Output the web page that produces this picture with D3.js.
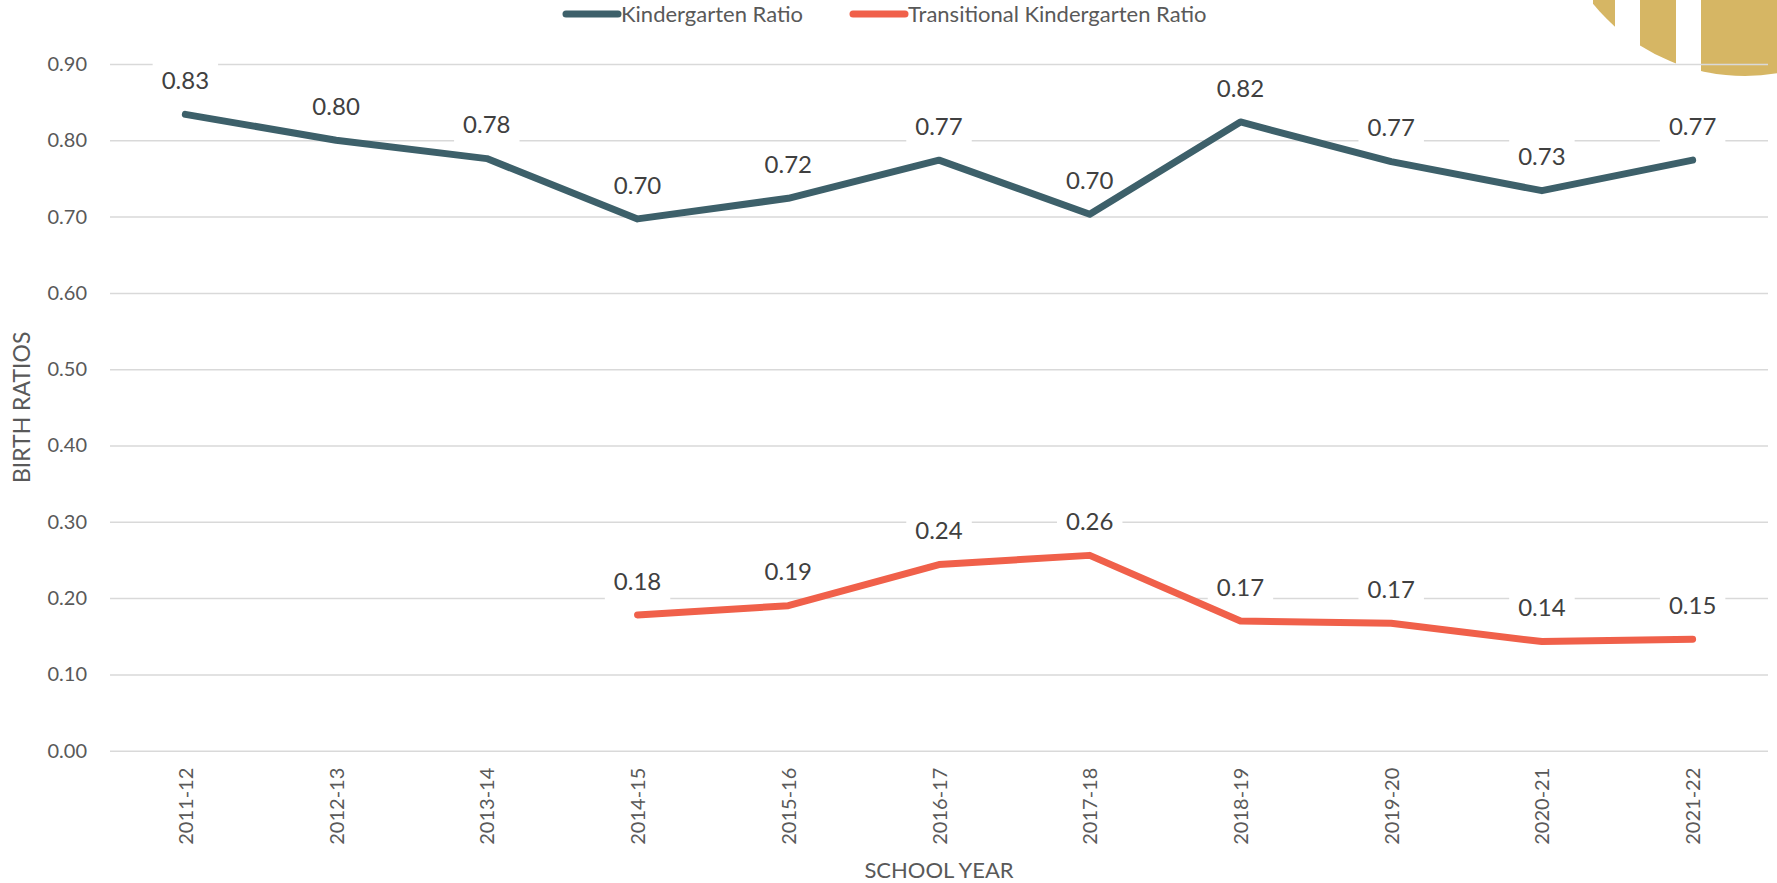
<!DOCTYPE html>
<html>
<head>
<meta charset="utf-8">
<script src="https://cdn.jsdelivr.net/npm/d3@7"></script>
<style>
  html, body { margin: 0; padding: 0; background: #fff; }
  svg text { font-family: Lato, "Liberation Sans", sans-serif; }
</style>
</head>
<body>
<div id="container"></div>
<script>
var w = 1777,
    h = 883;

// data
var years = ['2011-12', '2012-13', '2013-14', '2014-15', '2015-16', '2016-17',
             '2017-18', '2018-19', '2019-20', '2020-21', '2021-22'];
var kRatio = [0.834, 0.800, 0.776, 0.697, 0.724, 0.774, 0.703, 0.824, 0.772, 0.734, 0.774];
var tkRatio = [null, null, null, 0.178, 0.190, 0.244, 0.256, 0.170, 0.167, 0.143, 0.146];
var yTicks = [0, 0.1, 0.2, 0.3, 0.4, 0.5, 0.6, 0.7, 0.8, 0.9];

var series = [
    { name: 'Kindergarten Ratio', values: kRatio, color: '#3d606a' },
    { name: 'Transitional Kindergarten Ratio', values: tkRatio, color: '#f0604a' }
];

var margin = { top: 64, right: 9, bottom: 132, left: 110 };

var svg = d3.select('#container')
    .append('svg')
    .attr('width', w)
    .attr('height', h);

// gold logo corner (decoration, cut off by the page edge)
var logo = svg.append('g');
[[1593, 1615], [1640, 1676], [1701, 1777]].forEach(function(r, i) {
    logo.append('clipPath').attr('id', 'lc' + i)
        .append('rect').attr('x', r[0]).attr('y', 0)
        .attr('width', r[1] - r[0]).attr('height', 100);
    logo.append('circle')
        .attr('cx', 1745).attr('cy', -120).attr('r', 196)
        .attr('fill', '#d6b664')
        .attr('clip-path', 'url(#lc' + i + ')');
});

var x = d3.scalePoint()
    .domain(years)
    .range([margin.left, w - margin.right])
    .padding(0.5);

var y = d3.scaleLinear()
    .domain([0, 0.9])
    .range([750.7, margin.top]);

// gridlines
var gy = svg.append('g')
    .attr('transform', 'translate(' + margin.left + ',0)')
    .call(d3.axisLeft(y)
        .tickValues(yTicks)
        .tickSize(-(w - margin.left - margin.right))
        .tickPadding(23)
        .tickFormat(d3.format('.2f')));
gy.select('.domain').remove();
gy.selectAll('.tick line').attr('stroke', '#d9d9d9').attr('stroke-width', 1.5);
gy.selectAll('.tick text')
    .attr('fill', '#595959')
    .style('font-size', '20px');

// x axis labels
var gx = svg.append('g')
    .attr('transform', 'translate(0,' + y(0) + ')')
    .call(d3.axisBottom(x).tickSize(0).tickPadding(0));
gx.select('.domain').remove();
gx.selectAll('.tick text')
    .attr('fill', '#595959')
    .style('font-size', '20px')
    .attr('text-anchor', 'end')
    .attr('dy', '0.35em')
    .attr('transform', 'translate(0,17) rotate(-90)');

// axis titles
svg.append('text')
    .attr('transform', 'translate(30,' + (y(0) + y(0.9)) / 2 + ') rotate(-90)')
    .attr('text-anchor', 'middle')
    .attr('fill', '#595959')
    .style('font-size', '23px')
    .text('BIRTH RATIOS');

svg.append('text')
    .attr('x', (margin.left + w - margin.right) / 2)
    .attr('y', 878)
    .attr('text-anchor', 'middle')
    .attr('fill', '#595959')
    .style('font-size', '22px')
    .text('SCHOOL YEAR');

// data labels with white boxes that cut the gridlines
series.forEach(function(s) {
    var pts = years.map(function(yr, i) { return { year: yr, v: s.values[i] }; })
        .filter(function(d) { return d.v !== null; });

    var lab = svg.append('g').selectAll('g').data(pts).enter()
        .append('g')
        .attr('transform', function(d) {
            return 'translate(' + x(d.year) + ',' + (y(d.v) - 34) + ')';
        });
    lab.append('rect').attr('fill', '#fff');
    var txt = lab.append('text')
        .attr('text-anchor', 'middle')
        .attr('dy', '0.36em')
        .attr('fill', '#404040')
        .style('font-size', '24px')
        .text(function(d) { return d3.format('.2f')(d.v); });
    txt.each(function() {
        var b = this.getBBox();
        d3.select(this.previousSibling)
            .attr('x', b.x - 9).attr('y', b.y - 6)
            .attr('width', b.width + 18).attr('height', b.height + 12);
    });
});

// lines
var line = d3.line()
    .defined(function(d) { return d.v !== null; })
    .x(function(d) { return x(d.year); })
    .y(function(d) { return y(d.v); });

series.forEach(function(s) {
    var pts = years.map(function(yr, i) { return { year: yr, v: s.values[i] }; });
    svg.append('path')
        .datum(pts)
        .attr('d', line)
        .attr('fill', 'none')
        .attr('stroke', s.color)
        .attr('stroke-width', 7)
        .attr('stroke-linecap', 'round')
        .attr('stroke-linejoin', 'round');
});

// legend
var legendX = [563, 850];
var legend = svg.append('g').selectAll('g').data(series).enter()
    .append('g')
    .attr('transform', function(d, i) { return 'translate(' + legendX[i] + ',14)'; });
legend.append('line')
    .attr('x1', 3).attr('x2', 55)
    .attr('stroke', function(d) { return d.color; })
    .attr('stroke-width', 7)
    .attr('stroke-linecap', 'round');
legend.append('text')
    .attr('x', 58)
    .attr('dy', '0.35em')
    .attr('fill', '#595959')
    .style('font-size', '22px')
    .text(function(d) { return d.name; });
</script>
</body>
</html>
